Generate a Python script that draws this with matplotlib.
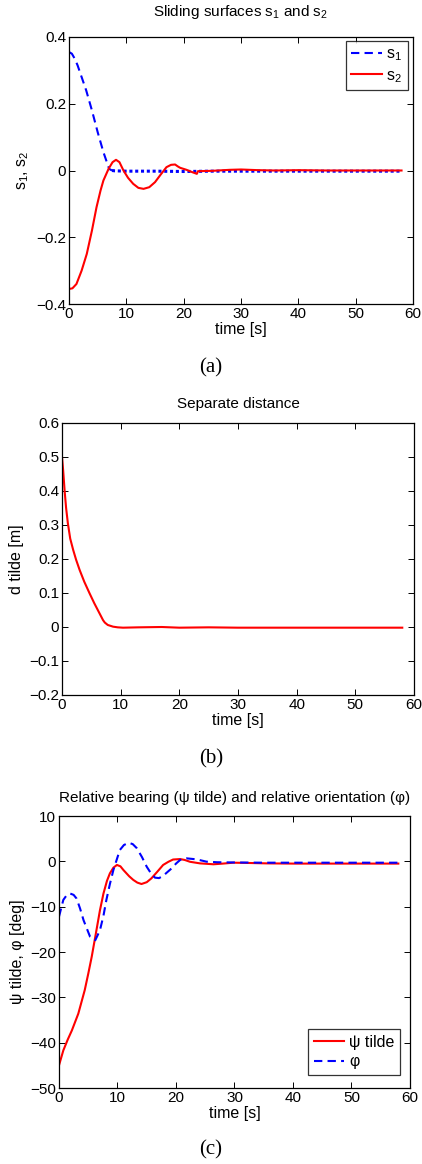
import numpy as np
import matplotlib.pyplot as plt

plt.rcParams['font.family'] = ['Liberation Sans', 'DejaVu Sans']
plt.rcParams['mathtext.fontset'] = 'custom'
plt.rcParams['mathtext.rm'] = 'Liberation Sans'
plt.rcParams['mathtext.it'] = 'Liberation Sans'

# (a) sliding surfaces
t_s1 = [0, 0.5, 1, 1.5, 2, 3, 4, 5, 6, 7, 7.5, 8, 10, 15, 20, 25, 30, 40, 50, 58]
s1 = [0.355, 0.35, 0.335, 0.315, 0.29, 0.24, 0.18, 0.115, 0.055, 0.005, 0.0,
      -0.001, -0.002, -0.002, -0.003, -0.002, -0.002, -0.002, -0.002, -0.002]
t_s2 = [0, 0.6, 1.3, 2.2, 3.1, 4.0, 4.8, 5.5, 6.0, 6.9, 7.6, 8.2, 8.8, 9.5, 10.3, 11.2,
        12.1, 13, 14, 15, 16, 17, 17.8, 18.5, 19.0, 19.4, 20.5, 21.5, 22.3, 22.5, 25,
        28, 30, 33, 36, 40, 45, 50, 55, 58]
s2 = [-0.355, -0.353, -0.34, -0.3, -0.25, -0.18, -0.11, -0.06, -0.03, 0.005, 0.025,
      0.032, 0.025, 0.0, -0.022, -0.04, -0.052, -0.055, -0.05, -0.035, -0.012, 0.01,
      0.017, 0.018, 0.012, 0.008, 0.002, -0.005, -0.01, -0.002, -0.001,
      0.002, 0.003, 0.001, 0.0, 0.001, 0.0, 0.0, 0.0, 0.0]

# (b) separate distance
t_d = [0, 0.2, 0.45, 0.7, 1.0, 1.4, 1.9, 2.4, 3.0, 3.8, 4.7, 5.5, 6.4, 7.0, 7.3, 7.8,
       8.7, 9.5, 10.4, 13, 17, 20, 25, 30, 40, 50, 58]
d = [0.5, 0.46, 0.4, 0.35, 0.305, 0.26, 0.227, 0.198, 0.168, 0.133, 0.099, 0.07,
     0.04, 0.02, 0.013, 0.006, 0.001, -0.001, -0.002, -0.001, 0.0, -0.002, -0.001,
     -0.002, -0.002, -0.002, -0.002]

# (c) relative bearing / orientation
t_psi = [0, 0.74, 1.5, 2.2, 3.3, 4.4, 5.0, 5.6, 6.4, 7.0, 7.6, 8.2, 8.7, 9.3, 9.9,
         10.5, 11, 12.0, 12.7, 13.4, 14.1, 15.0, 15.8, 16.8, 17.8, 18.7, 19.5, 20.7,
         21.5, 22.4, 24.1, 26.4, 28, 29.8, 32, 35.5, 40, 45, 50, 55, 58]
psi = [-45, -41.7, -39.3, -37.3, -33.6, -28.4, -24.8, -21, -15.2, -10.8, -7.1,
       -4.3, -2.65, -1.4, -0.8, -1.1, -1.9, -3.3, -4.1, -4.7, -5.0, -4.6, -3.75,
       -2.3, -0.8, -0.1, 0.4, 0.5, 0.3, -0.1, -0.45, -0.65, -0.5, -0.3, -0.35,
       -0.45, -0.5, -0.5, -0.5, -0.5, -0.5]
t_phi = [0, 0.74, 1.3, 1.9, 2.5, 3.0, 3.6, 4.2, 5.3, 6.2, 7.0, 7.6, 8.1, 8.7, 9.3,
         9.9, 10.4, 11.1, 11.9, 12.6, 13.3, 14.2, 15, 15.7, 16.4, 17.1, 17.8, 18.5,
         19.3, 20.0, 20.7, 21.8, 23.5, 25.2, 27, 30, 35, 40, 50, 58]
phi = [-12.2, -8.5, -7.5, -7.1, -7.4, -8.2, -10.4, -13, -16.6, -17.4, -15.2, -12,
       -8.5, -5.0, -1.9, 0.5, 2.5, 3.6, 4.1, 3.8, 2.9, 0.9, -1.2, -2.6, -3.6, -3.7,
       -3.2, -2.4, -1.5, -0.5, 0.3, 0.66, 0.44, -0.07, -0.2, -0.25, -0.3, -0.3,
       -0.3, -0.3]

W, H = 422, 1164
fig = plt.figure(figsize=(W / 100, H / 100), dpi=100)


def make_ax(l, r, t, b):
    ax = fig.add_axes([l / W, 1 - b / H, (r - l) / W, (b - t) / H])
    ax.tick_params(direction='in', top=True, right=True, labelsize=11,
                   length=4, width=0.7, pad=2)
    for sp in ax.spines.values():
        sp.set_linewidth(0.9)
    ax.set_xlim(0, 60)
    ax.set_xticks(np.arange(0, 61, 10))
    ax.set_xlabel('time [s]', fontsize=11.5, labelpad=1)
    return ax


def minus(vals, fmt):
    return [(fmt % v).replace('-', '\u2212') if v != 0 else '0' for v in vals]


def boxed(leg):
    leg.get_frame().set_edgecolor('black')
    leg.get_frame().set_linewidth(0.9)


axa = make_ax(69, 413, 37, 304)
# s1 chatters around zero once it reaches the surface -> dense dotted look
k = 10
axa.plot(t_s1[:k + 1], s1[:k + 1], '--', color='#0000ff', lw=1.5, dashes=(4, 2.5),
         label='s$_1$')
axa.plot(t_s1[k:], s1[k:], color='#0000ff', lw=2.2, dashes=(1.0, 0.9))
axa.plot(t_s2, s2, '-', color='#ff0000', lw=1.5, label='s$_2$')
axa.set_ylim(-0.4, 0.4)
ya = [-0.4, -0.2, 0, 0.2, 0.4]
axa.set_yticks(ya)
axa.set_yticklabels(minus(ya, '%.1f'))
axa.set_title('Sliding surfaces s$_1$ and s$_2$', fontsize=11, pad=15)
axa.set_ylabel('s$_1$, s$_2$', fontsize=11.5, labelpad=4)
boxed(axa.legend(loc='upper right', bbox_to_anchor=(0.9855, 0.985),
                 borderaxespad=0, fontsize=11.5, frameon=True, fancybox=False,
                 handlelength=1.9, borderpad=0.35, labelspacing=0.3,
                 handletextpad=0.3))
fig.text(211 / W, 1 - 368 / H, '(a)', ha='center', va='center',
         family='Liberation Serif', fontsize=15)

axb = make_ax(62, 414, 423, 695)
axb.plot(t_d, d, '-', color='#ff0000', lw=1.5)
axb.set_ylim(-0.2, 0.6)
yb = [-0.2, -0.1, 0, 0.1, 0.2, 0.3, 0.4, 0.5, 0.6]
axb.set_yticks(yb)
axb.set_yticklabels(minus(yb, '%.1f'))
axb.set_title('Separate distance', fontsize=11, pad=11)
axb.set_ylabel('d tilde [m]', fontsize=11.5, labelpad=4)
fig.text(211 / W, 1 - 759 / H, '(b)', ha='center', va='center',
         family='Liberation Serif', fontsize=15)

axc = make_ax(59, 410, 816, 1088)
axc.plot(t_psi, psi, '-', color='#ff0000', lw=1.5, label='\u03c8 tilde')
axc.plot(t_phi, phi, '--', color='#0000ff', lw=1.5, dashes=(4, 2.5), label='\u03c6')
axc.set_ylim(-50, 10)
yc = list(range(-50, 11, 10))
axc.set_yticks(yc)
axc.set_yticklabels(minus(yc, '%d'))
axc.set_title('Relative bearing (\u03c8 tilde) and relative orientation (\u03c6)',
              fontsize=11, pad=10)
axc.set_ylabel('\u03c8 tilde, \u03c6 [deg]', fontsize=11.5, labelpad=4)
boxed(axc.legend(loc='lower right', bbox_to_anchor=(0.9715, 0.048),
                 borderaxespad=0, fontsize=11.5, frameon=True, fancybox=False,
                 handlelength=1.9, borderpad=0.35, labelspacing=0.3,
                 handletextpad=0.3))
fig.text(211 / W, 1 - 1150 / H, '(c)', ha='center', va='center',
         family='Liberation Serif', fontsize=15)

fig.savefig('out.png', dpi=100)
